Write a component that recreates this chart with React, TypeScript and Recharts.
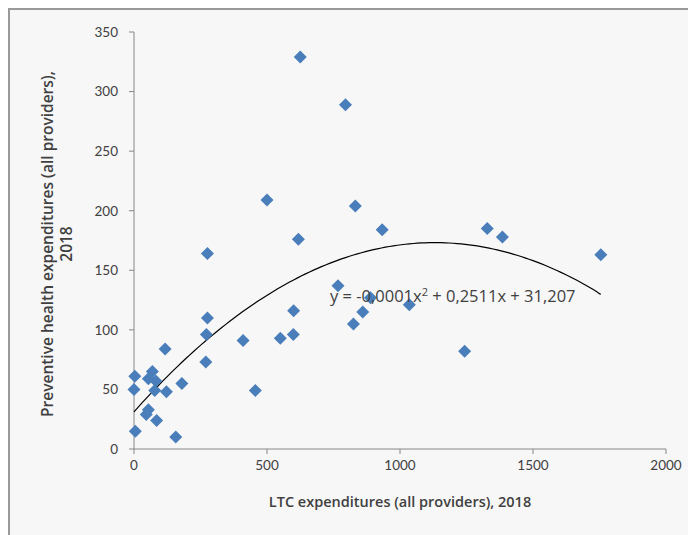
import { ScatterChart, Scatter, XAxis, YAxis } from "recharts"

const ltcSpending = [
  625, 795, 500, 832, 933, 618, 1328, 1385, 1755, 1035, 1243, 276, 767, 600, 889, 860, 825,
  276, 272, 410, 550, 599, 270, 456, 117, 3, 0, 69, 54, 82, 78, 122, 180, 54, 46, 85, 5, 157,
]
const preventiveSpending = [
  329, 289, 209, 204, 184, 176, 185, 178, 163, 121, 82, 164, 137, 116, 127, 115, 105,
  110, 96, 91, 93, 96, 73, 49, 84, 61, 50, 65, 59, 57, 49, 48, 55, 33, 29, 24, 15, 10,
]

const xTicks = [0, 500, 1000, 1500, 2000]
const yTicks = [0, 50, 100, 150, 200, 250, 300, 350]

// polynomial trendline (order 2), label rounds the x² term
const trendCoef = { a: -0.000111, b: 0.2511, c: 31.207 }
const trendRange = [0, 1755]

const points = ltcSpending.map((x, i) => ({ x, y: preventiveSpending[i] }))

const trend: { x: number; y: number }[] = []
for (let x = trendRange[0]; x <= trendRange[1]; x += 15) {
  trend.push({ x, y: trendCoef.a * x * x + trendCoef.b * x + trendCoef.c })
}
trend.push({
  x: trendRange[1],
  y: trendCoef.a * trendRange[1] ** 2 + trendCoef.b * trendRange[1] + trendCoef.c,
})

const font = "Lato, 'Open Sans', sans-serif"
const titleFont = "'Open Sans', sans-serif"
const textColor = "#404040"
const axisColor = "#868686"

const Diamond = (props: any) => {
  const { cx, cy } = props
  if (cx == null || cy == null) return null
  const r = 6.5
  return (
    <path
      d={`M${cx},${cy - r}L${cx + r},${cy}L${cx},${cy + r}L${cx - r},${cy}Z`}
      fill="#4a7ebb"
    />
  )
}

const NoDot = () => null

export default function App() {
  return (
    <div
      style={{
        position: "relative",
        width: 688,
        height: 527,
        boxSizing: "border-box",
        borderTop: "2px solid #9a9a9a",
        borderLeft: "2px solid #9a9a9a",
        background: "#f7f7f7",
        fontFamily: font,
      }}
    >
      <ScatterChart width={686} height={525} margin={{ top: 22, right: 30, bottom: 36, left: 0 }}>
        <XAxis
          type="number"
          dataKey="x"
          domain={[0, 2000]}
          ticks={xTicks}
          stroke={axisColor}
          tickSize={5}
          tickMargin={6}
          height={50}
          tick={{ fill: textColor, fontSize: 13.5, fontFamily: font }}
          label={{
            value: "LTC expenditures (all providers), 2018",
            position: "insideBottom",
            offset: -8,
            fill: textColor,
            fontSize: 14.5,
            fontWeight: 600,
            fontFamily: titleFont,
          }}
        />
        <YAxis
          type="number"
          dataKey="y"
          domain={[0, 350]}
          ticks={yTicks}
          stroke={axisColor}
          tickSize={5}
          tickMargin={11}
          width={124}
          tick={{ fill: textColor, fontSize: 13.5, fontFamily: font }}
          label={{
            content: () => (
              <text
                transform="translate(43,234) rotate(-90)"
                textAnchor="middle"
                fill={textColor}
                fontSize={15.5}
                fontWeight={600}
                fontFamily={titleFont}
              >
                <tspan x={0} dy={0}>Preventive health expenditures (all providers),</tspan>
                <tspan x={0} dy={19}>2018</tspan>
              </text>
            ),
          }}
        />
        <Scatter
          data={trend}
          line={{ stroke: "#000000", strokeWidth: 1.2 }}
          lineJointType="monotoneX"
          shape={NoDot}
          isAnimationActive={false}
        />
        <Scatter data={points} shape={Diamond} isAnimationActive={false} />
      </ScatterChart>
      <div
        style={{
          position: "absolute",
          left: 320,
          top: 277,
          fontSize: 16.5,
          color: textColor,
          fontFamily: titleFont,
          whiteSpace: "nowrap",
          lineHeight: "18px",
        }}
      >
        y = -0,0001x<sup style={{ fontSize: 11, lineHeight: 0 }}>2</sup> + 0,2511x + 31,207
      </div>
    </div>
  )
}
